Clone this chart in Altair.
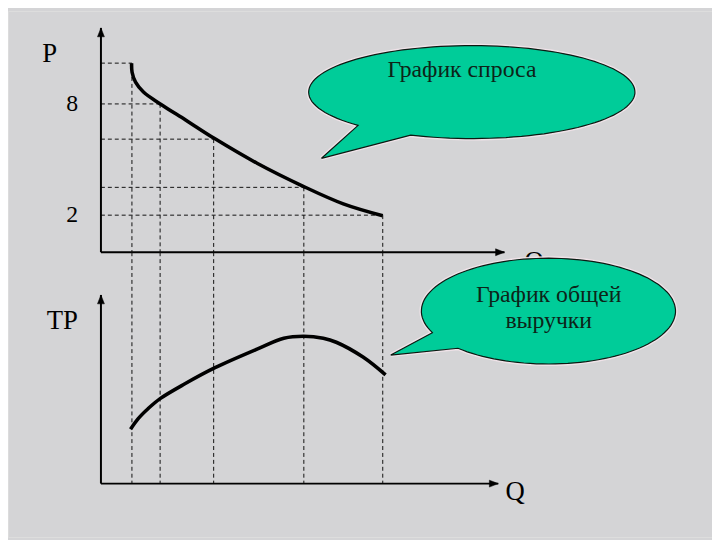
import math
import altair as alt
import numpy as np
import pandas as pd

# ---------------- data ----------------
# demand curve (Q, P)
demand_q = [1.088, 1.105, 1.228, 1.509, 2.105, 3.018, 4.035, 5.54, 7.16, 8.60, 10.00]
demand_p = [10.19, 9.71, 9.17, 8.64, 8.00, 7.12, 6.13, 4.80, 3.57, 2.61, 1.97]

# marked points on the demand curve (dashed guides)
mark_q = [1.1, 2.1, 4.0, 7.2, 10.0]
mark_p = [10.2, 8.0, 6.1, 3.5, 2.0]

# total revenue curve (Q, TR)
tr_q = [1.05, 1.33, 1.68, 2.10, 2.98, 4.03, 5.54, 6.49, 7.19, 7.89, 8.35, 9.30, 10.10]
tr_v = [9.17, 11.0, 12.67, 14.33, 16.83, 19.5, 22.67, 24.5, 24.83, 24.5, 23.83, 21.33, 18.33]

# tick labels on the price axis
tick_values = [8, 2]
tick_labels = ["8", "2"]

# texts
demand_bubble_text = ["График спроса"]
tr_bubble_text = ["График общей", "выручки"]

# ---------------- layout constants ----------------
W, H = 712, 532
X_DOM = [-3.298, 21.684]
P_DOM = [-15.36, 13.013]      # price scale (upper graph)
TR_DOM = [-9.0, 79.667]       # revenue scale (lower graph)
TR_AT_UPPER_AXIS = 39.0       # lower graph's scale value at the upper Q axis

TOP_X_END, TOP_Y_END = 14.32, 12.1
BOT_X_END, BOT_Y_END = 14.1, 31.8

BUBBLE_FILL = "#00CC99"
TEXT_FONT = "Liberation Serif, Times New Roman, DejaVu Serif, serif"
DASH = dict(strokeDash=[4, 3], strokeWidth=1, color="#111")

xs = alt.Scale(domain=X_DOM, nice=False, zero=False)
ps = alt.Scale(domain=P_DOM, nice=False, zero=False)
ts = alt.Scale(domain=TR_DOM, nice=False, zero=False)


def bubble_path(rx, ry, a1, a2, tip):
    a1r, a2r = math.radians(a1), math.radians(a2)
    pts = [(rx * math.cos(a1r), ry * math.sin(a1r)), tip,
           (rx * math.cos(a2r), ry * math.sin(a2r))]
    for t in np.linspace(a2, a1 - 360, 120)[1:]:
        tr = math.radians(t)
        pts.append((rx * math.cos(tr), ry * math.sin(tr)))
    return "M" + "L".join(f"{x:.1f},{y:.1f}" for x, y in pts) + "Z"


TOP_BUBBLE = bubble_path(165, 47, 134.2, 112.0, (-152, 67))
BOT_BUBBLE = bubble_path(128.5, 53.5, 156.0, 135.4, (-159.5, 44.5))
UP_ARROW = "M0,0L-3.5,9L3.5,9Z"
RIGHT_ARROW = "M0,0L-9,-3.5L-9,3.5Z"


def X(f):
    return alt.X(f, scale=xs, axis=None)


def graph_layers(yscale, hguides, vguides, axes, curve, arrows, labels,
                 bubble, btext, shape):
    Y = lambda f: alt.Y(f, scale=yscale, axis=None)
    layers = [
        alt.Chart(vguides).mark_rule(**DASH)
        .encode(x=X("q:Q"), y=Y("y:Q"), y2="y2:Q"),
    ]
    if hguides is not None:
        layers.append(
            alt.Chart(hguides).mark_rule(**DASH)
            .encode(x=X("q0:Q"), x2="q:Q", y=Y("y:Q"))
        )
    layers.append(
        alt.Chart(axes).mark_rule(strokeWidth=2, color="black")
        .encode(x=X("q:Q"), x2="q2:Q", y=Y("y:Q"), y2="y2:Q")
    )
    layers.append(
        alt.Chart(curve).mark_line(interpolate="catmull-rom", strokeWidth=3.6,
                                   color="black")
        .encode(x=X("q:Q"), y=Y("y:Q"), order="q:Q")
    )
    for shp, adf in arrows:
        layers.append(
            alt.Chart(adf).mark_point(shape=shp, size=4, filled=True, fill="black",
                                      stroke="black", strokeWidth=0.5, opacity=1)
            .encode(x=X("q:Q"), y=Y("y:Q"))
        )
    layers.append(
        alt.Chart(labels).mark_text(font=TEXT_FONT, color="black",
                                    baseline="middle", align="center")
        .encode(x=X("q:Q"), y=Y("y:Q"), text="label:N",
                size=alt.Size("fs:Q", scale=None, legend=None))
    )
    layers.append(
        alt.Chart(bubble).mark_point(shape=shape, size=4, filled=False,
                                     stroke="#f3e4ea", strokeWidth=4, opacity=0.9)
        .encode(x=X("q:Q"), y=Y("y:Q"))
    )
    layers.append(
        alt.Chart(bubble).mark_point(shape=shape, size=4, filled=True,
                                     fill=BUBBLE_FILL, stroke="#0b1a12",
                                     strokeWidth=1.2, opacity=1, fillOpacity=1)
        .encode(x=X("q:Q"), y=Y("y:Q"))
    )
    layers.append(
        alt.Chart(btext).mark_text(font=TEXT_FONT, color="#0d2418", fontSize=24,
                                   baseline="middle", align="center")
        .encode(x=X("q:Q"), y=Y("y:Q"), text="label:N")
    )
    return layers


# ---------- upper graph: demand ----------
top_h = pd.DataFrame({"q": mark_q, "y": mark_p, "q0": 0.0})
top_v = pd.DataFrame({"q": mark_q, "y": mark_p, "y2": 0.0})
top_axes = pd.DataFrame({"q": [0.0, 0.0], "q2": [TOP_X_END, 0.0],
                         "y": [0.0, 0.0], "y2": [0.0, TOP_Y_END]})
top_curve = pd.DataFrame({"q": demand_q, "y": demand_p})
top_arrows = [(RIGHT_ARROW, pd.DataFrame({"q": [TOP_X_END], "y": [0.0]})),
              (UP_ARROW, pd.DataFrame({"q": [0.0], "y": [TOP_Y_END]}))]
top_labels = pd.DataFrame({
    "q": [-1.82, -1.02, -1.02, 15.37],
    "y": [10.67, tick_values[0], tick_values[1], -0.55],
    "label": ["P", tick_labels[0], tick_labels[1], "Q"],
    "fs": [27, 24, 24, 27],
})
top_bubble = pd.DataFrame({"q": [13.16], "y": [8.64]})
top_btext = pd.DataFrame({"q": [12.81], "y": [9.8], "label": demand_bubble_text})

upper = graph_layers(ps, top_h, top_v, top_axes, top_curve, top_arrows,
                     top_labels, top_bubble, top_btext, TOP_BUBBLE)

# ---------- lower graph: total revenue ----------
bot_v = pd.DataFrame({"q": mark_q, "y": TR_AT_UPPER_AXIS, "y2": 0.0})
bot_axes = pd.DataFrame({"q": [0.0, 0.0], "q2": [BOT_X_END, 0.0],
                         "y": [0.0, 0.0], "y2": [0.0, BOT_Y_END]})
bot_curve = pd.DataFrame({"q": tr_q, "y": tr_v})
bot_arrows = [(RIGHT_ARROW, pd.DataFrame({"q": [BOT_X_END], "y": [0.0]})),
              (UP_ARROW, pd.DataFrame({"q": [0.0], "y": [BOT_Y_END]}))]
bot_labels = pd.DataFrame({
    "q": [-1.37, 14.7],
    "y": [27.33, -1.4],
    "label": ["ТР", "Q"],
    "fs": [27, 27],
})
bot_bubble = pd.DataFrame({"q": [15.88], "y": [29.08]})
bot_btext = pd.DataFrame({"q": [15.89, 15.89], "y": [31.83, 27.33],
                          "label": tr_bubble_text})

lower = graph_layers(ts, None, bot_v, bot_axes, bot_curve, bot_arrows,
                     bot_labels, bot_bubble, bot_btext, BOT_BUBBLE)

chart = (
    alt.layer(*upper, *lower)
    .resolve_scale(y="independent")
    .properties(width=W, height=H, padding=0,
                autosize=alt.AutoSizeParams(type="none"))
    .configure_view(strokeWidth=0, stroke="transparent")
    .configure(background="#d4d4d6")
)

chart.save("out.html", embed_options={"renderer": "svg", "actions": False})
